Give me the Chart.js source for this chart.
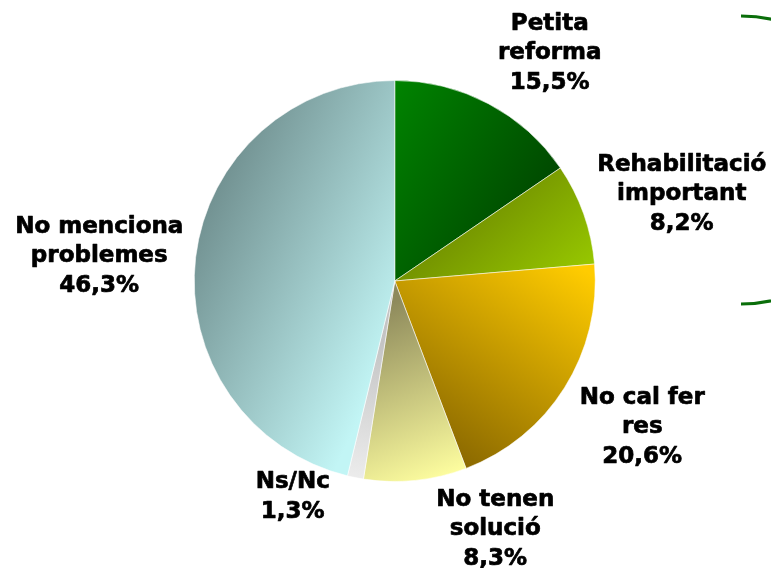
<!DOCTYPE html>
<html>
<head>
<meta charset="utf-8">
<script src="https://cdn.jsdelivr.net/npm/chart.js@4/dist/chart.umd.min.js"></script>
<style>
  html, body { margin: 0; padding: 0; background: #ffffff; }
  #wrap { width: 771px; height: 568px; position: relative; }
</style>
</head>
<body>
<div id="wrap"><canvas id="c" width="771" height="568"></canvas></div>
<script>
// ---- data ----
const categories = [
  ["Petita", "reforma"],
  ["Rehabilitació", "important"],
  ["No cal fer", "res"],
  ["No tenen", "solució"],
  ["Ns/Nc"],
  ["No menciona", "problemes"]
];
const values = [15.5, 8.2, 20.6, 8.3, 1.3, 46.3];

// ---- styling (gradient per slice: x0,y0,x1,y1 in radius units, colours) ----
const gradients = [
  [-0.15, -0.95, 0.75, -0.4, "#008a00", "#004800"],
  [0.4, -0.55, 0.92, 0.05, "#6b8600", "#9acc00"],
  [0.95, -0.05, 0.3, 0.9, "#ffcc00", "#8a6800"],
  [0.0, 0.1, 0.35, 0.95, "#8e8a5c", "#ffffa0"],
  [-0.1, 0.3, -0.2, 0.98, "#c4c4c4", "#ececec"],
  [-1.0, -0.47, 0.12, 0.06, "#6b8989", "#c2f5f5"]
];
// label anchor offsets from pie centre (px) – middle of the text block baseline
const labelOffsets = [
  [155, -222],
  [287, -81],
  [247.5, 152],
  [100.5, 254],
  [-102, 222],
  [-295.5, -19]
];
const fallback = ["#006600", "#88aa00", "#ddaa00", "#e8e89a", "#dddddd", "#9cc8c8"];

function sliceFill(ctx) {
  const chart = ctx.chart;
  const a = chart.chartArea;
  const i = ctx.dataIndex;
  if (!a) return fallback[i];
  const cx = (a.left + a.right) / 2, cy = (a.top + a.bottom) / 2;
  const r = Math.min(a.width, a.height) / 2;
  const g = gradients[i];
  const lg = chart.ctx.createLinearGradient(cx + g[0] * r, cy + g[1] * r, cx + g[2] * r, cy + g[3] * r);
  lg.addColorStop(0, g[4]);
  lg.addColorStop(1, g[5]);
  return lg;
}

const labelPlugin = {
  id: "outLabels",
  afterDatasetsDraw(chart) {
    const meta = chart.getDatasetMeta(0);
    const c = chart.ctx;
    c.save();
    c.font = "bold 23px 'DejaVu Sans', Verdana, sans-serif";
    c.fillStyle = "#000000";
    c.strokeStyle = "#000000";
    c.lineWidth = 0.7;
    c.lineJoin = "round";
    c.textAlign = "center";
    c.textBaseline = "alphabetic";
    const lh = 29.5;
    meta.data.forEach((arc, i) => {
      const lines = categories[i].concat([values[i].toFixed(1).replace(".", ",") + "%"]);
      const ax = arc.x + labelOffsets[i][0];
      const ay = arc.y + labelOffsets[i][1];
      const first = ay - (lines.length - 1) / 2 * lh;
      lines.forEach((t, k) => {
        c.fillText(t, ax, first + k * lh);
        c.strokeText(t, ax, first + k * lh);
      });
    });
    c.restore();
  }
};

const decoPlugin = {
  id: "deco",
  afterDraw(chart) {
    const c = chart.ctx;
    c.save();
    c.strokeStyle = "#0a6e0a";
    c.lineWidth = 3;
    c.beginPath();
    c.arc(741, 160, 144, -Math.PI / 2, Math.PI / 2);
    c.stroke();
    c.restore();
  }
};

new Chart(document.getElementById("c"), {
  type: "pie",
  data: {
    labels: categories.map(l => l.join(" ")),
    datasets: [{
      data: values,
      backgroundColor: sliceFill,
      borderColor: "rgba(255,255,255,0.55)",
      borderWidth: 1
    }]
  },
  options: {
    responsive: false,
    animation: false,
    events: [],
    layout: { padding: { left: 193.5, right: 175, top: 80, bottom: 86 } },
    plugins: { legend: { display: false }, tooltip: { enabled: false } }
  },
  plugins: [labelPlugin, decoPlugin]
});
</script>
</body>
</html>
